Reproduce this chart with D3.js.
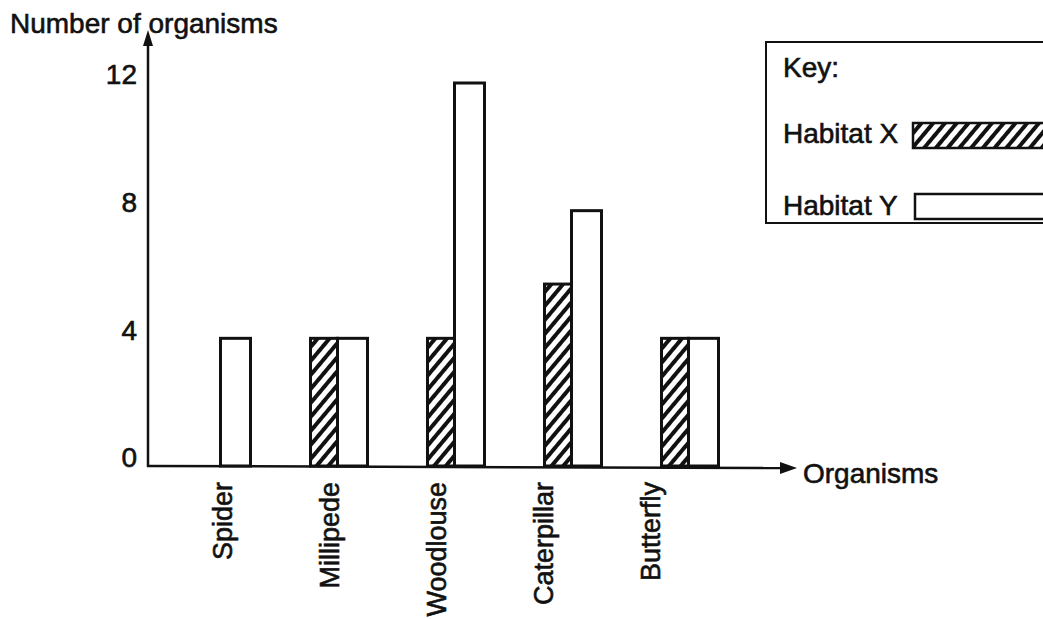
<!DOCTYPE html>
<html>
<head>
<meta charset="utf-8">
<script src="https://cdn.jsdelivr.net/npm/d3@7"></script>
<style>
    html, body { margin: 0; padding: 0; background: #fff; }
    svg text { font-family: "Liberation Sans", Arial, sans-serif; fill: #111; stroke: #111; stroke-width: 0.6px; }
</style>
</head>
<body>
<div id="graph"></div>
<script>
'use strict';

// Data Inputs
const categories = ['Spider', 'Millipede', 'Woodlouse', 'Caterpillar', 'Butterfly'];
const habitatX   = [0, 4, 4, 5.7, 4];
const habitatY   = [4, 4, 12, 8, 4];
const yTicks     = [0, 4, 8, 12];
const seriesKeys = ['Habitat X', 'Habitat Y'];

const w = 1043,
      h = 619;

const vis = d3.select('#graph')
    .append('svg')
    .attr('width', w)
    .attr('height', h);

// hatch for habitat X
vis.append('defs')
    .append('pattern')
    .attr('id', 'hatch')
    .attr('patternUnits', 'userSpaceOnUse')
    .attr('width', 9)
    .attr('height', 9)
    .attr('patternTransform', 'rotate(40)')
    .append('rect')
    .attr('x', 0)
    .attr('y', 0)
    .attr('width', 4)
    .attr('height', 9)
    .attr('fill', '#111');

// Scales
const x = d3.scaleBand()
    .domain(categories)
    .range([162, 747]);

const labelX = d3.scalePoint()
    .domain(categories)
    .range([222, 650]);

const y = d3.scaleLinear()
    .domain([0, 12])
    .range([466, 83]);

const barXW = 27,
      barYW = 30;
const x0 = 148;

// Bars
const rows = categories.map((c, i) => ({name: c, x: habitatX[i], y: habitatY[i]}));

vis.selectAll('rect.barX')
    .data(rows.filter(d => d.x > 0))
    .enter()
    .append('rect')
    .attr('class', 'barX')
    .attr('x', d => x(d.name) + x.bandwidth() / 2 - barXW)
    .attr('y', d => y(d.x))
    .attr('width', barXW)
    .attr('height', d => y(0) - y(d.x))
    .attr('fill', 'url(#hatch)')
    .attr('stroke', '#111')
    .attr('stroke-width', 3);

vis.selectAll('rect.barY')
    .data(rows)
    .enter()
    .append('rect')
    .attr('class', 'barY')
    .attr('x', d => x(d.name) + x.bandwidth() / 2)
    .attr('y', d => y(d.y))
    .attr('width', barYW)
    .attr('height', d => y(0) - y(d.y))
    .attr('fill', '#fff')
    .attr('stroke', '#111')
    .attr('stroke-width', 3);

// Axes
const yAxis = d3.axisLeft(y)
    .tickValues(yTicks)
    .tickSize(0)
    .tickPadding(11);

vis.append('g')
    .attr('transform', `translate(${x0},0)`)
    .call(yAxis)
    .call(g => g.select('.domain').remove())
    .selectAll('text')
    .attr('font-size', 28)
    .attr('transform', 'translate(0,-8)');

const xAxis = d3.axisBottom(labelX)
    .tickSize(0)
    .tickPadding(0);

vis.append('g')
    .attr('transform', `translate(0,${y(0)})`)
    .call(xAxis)
    .call(g => g.select('.domain').remove())
    .selectAll('text')
    .attr('font-size', 27)
    .attr('text-anchor', 'end')
    .attr('transform', 'rotate(-90)')
    .attr('x', -16)
    .attr('y', 0)
    .attr('dy', '0.35em');

// axis lines with arrows
vis.append('line')
    .attr('x1', x0).attr('y1', y(0) + 1)
    .attr('x2', x0).attr('y2', 40)
    .attr('stroke', '#111')
    .attr('stroke-width', 2.5);

vis.append('path')
    .attr('d', `M${x0},30 L${x0 - 5},46 L${x0 + 5},46 Z`)
    .attr('fill', '#111');

vis.append('line')
    .attr('x1', x0 - 1).attr('y1', y(0))
    .attr('x2', 785).attr('y2', y(0) + 2)
    .attr('stroke', '#111')
    .attr('stroke-width', 2.5);

vis.append('path')
    .attr('d', `M797,${y(0) + 2} L780,${y(0) - 4} L780,${y(0) + 8} Z`)
    .attr('fill', '#111');

// Axis titles
vis.append('text')
    .attr('x', 10)
    .attr('y', 33)
    .attr('font-size', 28)
    .text('Number of organisms');

vis.append('text')
    .attr('x', 803)
    .attr('y', 483)
    .attr('font-size', 28)
    .text('Organisms');

// Key
const key = vis.append('g');

key.append('rect')
    .attr('x', 766)
    .attr('y', 42)
    .attr('width', 300)
    .attr('height', 181)
    .attr('fill', 'none')
    .attr('stroke', '#111')
    .attr('stroke-width', 2);

key.append('text')
    .attr('x', 783)
    .attr('y', 77)
    .attr('font-size', 28)
    .text('Key:');

key.selectAll('text.item')
    .data(seriesKeys)
    .enter()
    .append('text')
    .attr('class', 'item')
    .attr('x', 783)
    .attr('y', (d, i) => 143 + i * 72)
    .attr('font-size', 28)
    .text(d => d);

key.selectAll('rect.swatch')
    .data(seriesKeys)
    .enter()
    .append('rect')
    .attr('class', 'swatch')
    .attr('x', (d, i) => 913 + i * 2)
    .attr('y', (d, i) => 123 + i * 71)
    .attr('width', 140)
    .attr('height', 25)
    .attr('fill', (d, i) => i === 0 ? 'url(#hatch)' : '#fff')
    .attr('stroke', '#111')
    .attr('stroke-width', 2.5);
</script>
</body>
</html>
